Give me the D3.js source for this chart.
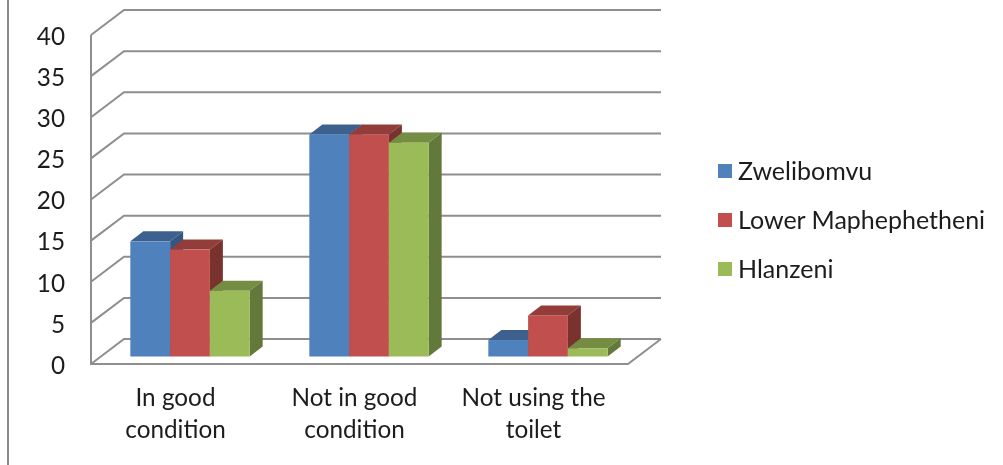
<!DOCTYPE html>
<html>
<head>
<meta charset="utf-8">
<script src="https://cdn.jsdelivr.net/npm/d3@7"></script>
<style>
html, body { margin: 0; padding: 0; background: #fff; }
svg { display: block; }
text { font-family: Lato, sans-serif; fill: #1c1c1c; }
</style>
</head>
<body>
<svg id="chart" width="1003" height="465"></svg>
<script>
var categories = ["In good condition", "Not in good condition", "Not using the toilet"];
var categoryLines = [["In good", "condition"], ["Not in good", "condition"], ["Not using the", "toilet"]];
var seriesNames = ["Zwelibomvu", "Lower Maphephetheni", "Hlanzeni"];
var zwelibomvu = [14, 27, 2];
var lowerMaphephetheni = [13, 27, 5];
var hlanzeni = [8, 26, 1];
var yTicks = [0, 5, 10, 15, 20, 25, 30, 35, 40];

var seriesValues = [zwelibomvu, lowerMaphephetheni, hlanzeni];
var frontColors = ["#4f81bd", "#c0504d", "#9bbb59"];
var topColors = ["#3c618f", "#933c3a", "#748d43"];
var sideColors = ["#355680", "#7a302e", "#64793a"];
var gridColor = "#8e8e8e";
var fontSize = 24.3;
var legendFontSize = 25;

// box: front of the floor and how far the back wall is shifted
var left = 91, right = 628, floorY = 364, topY = 35;
var depthX = 33, depthY = -25;
var barDepthX = 13, barDepthY = -10, barFloorX = 9.5, barFloorY = -7.5;

var svg = d3.select("#chart");
// the source picture is a little soft
svg.append("defs").append("filter").attr("id", "soft")
	.append("feGaussianBlur").attr("stdDeviation", 0.45);
var g = svg.append("g").attr("filter", "url(#soft)");

var y = d3.scaleLinear().domain([0, 40]).range([floorY, topY]);
var x0 = d3.scaleBand().domain(categories).range([left, right]).paddingInner(1 / 3).paddingOuter(1 / 6);
var x1 = d3.scaleBand().domain(seriesNames).range([0, x0.bandwidth()]);

// frame line at the left of the page
g.append("line").attr("x1", 8).attr("x2", 8).attr("y1", 0).attr("y2", 465)
	.attr("stroke", "#8a8a8a").attr("stroke-width", 2);

// back wall and side wall lines
yTicks.forEach(function(t){
	g.append("path")
		.attr("d", d3.line()([[left, y(t)], [left + depthX, y(t) + depthY], [right + depthX, y(t) + depthY]]))
		.attr("fill", "none").attr("stroke", gridColor).attr("stroke-width", 2);
})
g.append("path")
	.attr("d", d3.line()([[left, topY], [left, floorY], [right, floorY], [right + depthX, floorY + depthY]]))
	.attr("fill", "none").attr("stroke", gridColor).attr("stroke-width", 2);

// bars, left to right so each one covers the side of the last
categories.forEach(function(c, i){
	seriesNames.forEach(function(s, j){
		var bx = x0(c) + x1(s) + barFloorX, bw = x1.bandwidth();
		var by = y(seriesValues[j][i]) + barFloorY, base = floorY + barFloorY;
		var bar = g.append("g");
		bar.append("path").attr("fill", topColors[j])
			.attr("d", d3.line()([[bx, by], [bx + barDepthX, by + barDepthY], [bx + bw + barDepthX, by + barDepthY], [bx + bw, by]]));
		bar.append("path").attr("fill", sideColors[j])
			.attr("d", d3.line()([[bx + bw, by], [bx + bw + barDepthX, by + barDepthY], [bx + bw + barDepthX, base + barDepthY], [bx + bw, base]]));
		bar.append("rect").attr("x", bx).attr("y", by).attr("width", bw).attr("height", base - by).attr("fill", frontColors[j]);
	})
})

// y axis labels
var yAxis = g.append("g").attr("transform", "translate(71,1.5)")
	.call(d3.axisLeft(y).tickValues(yTicks).tickSize(0).tickPadding(6));
yAxis.select(".domain").remove();
yAxis.selectAll("text").style("font-family", "Lato, sans-serif").style("font-size", fontSize + "px").style("fill", "#1c1c1c");

// category labels
var xAxis = g.append("g").attr("transform", "translate(-5,385)")
	.call(d3.axisBottom(x0).tickSize(0).tickPadding(0).tickFormat(""));
xAxis.select(".domain").remove();
xAxis.selectAll(".tick text").each(function(d, i){
	var t = d3.select(this).attr("y", 0).attr("dy", null).style("font-family", "Lato, sans-serif").style("font-size", fontSize + "px").style("fill", "#1c1c1c");
	categoryLines[i].forEach(function(line, k){
		t.append("tspan").attr("x", 0).attr("y", 21 + k * 32).text(line);
	})
})

// legend
var legend = g.selectAll(".legend").data(seriesNames).enter().append("g").attr("class", "legend")
	.attr("transform", function(d, i){ return "translate(718," + (171 + i * 49) + ")"; });
legend.append("rect").attr("y", -7).attr("width", 14).attr("height", 14)
	.attr("fill", function(d, i){ return frontColors[i]; });
legend.append("text").attr("x", 20).attr("dy", "0.35em").style("font-size", legendFontSize + "px").text(function(d){ return d; });
</script>
</body>
</html>
